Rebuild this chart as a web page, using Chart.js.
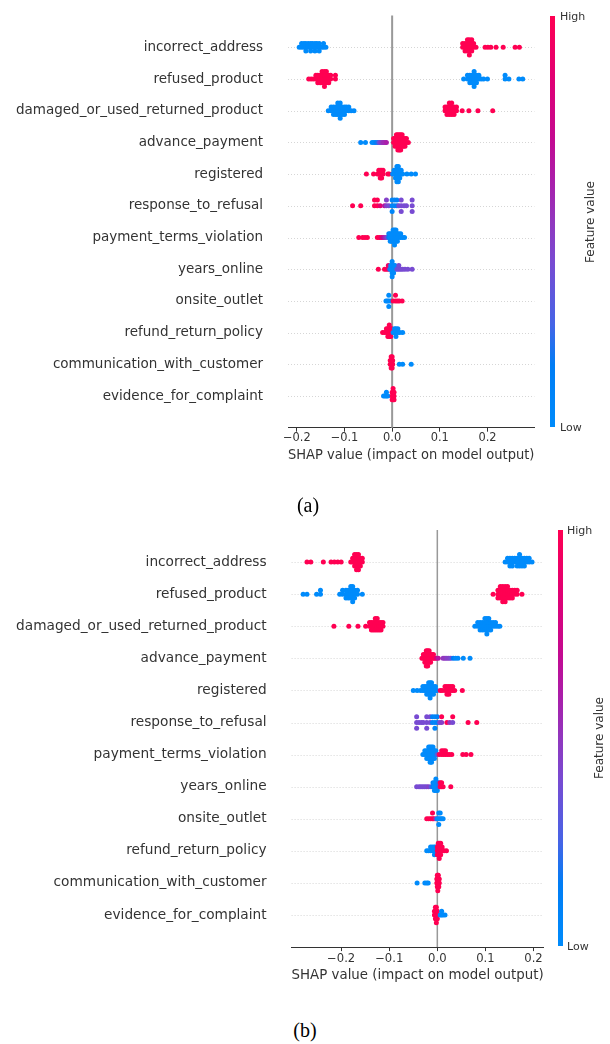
<!DOCTYPE html>
<html>
<head>
<meta charset="utf-8">
<script src="https://cdn.jsdelivr.net/npm/chart.js@4.4.1/dist/chart.umd.min.js"></script>
<style>
  html, body { margin: 0; padding: 0; background: #fff; }
  body { width: 610px; height: 1044px; position: relative; overflow: hidden; font-family: 'DejaVu Sans', sans-serif; }
  canvas { position: absolute; left: 0; }
  .cbar { position: absolute; }
  .cblab { position: absolute; font-size: 11px; color: #333; line-height: 1; transform: translateY(-50%); white-space: nowrap; }
  .fv { position: absolute; font-size: 12px; color: #333; white-space: nowrap; transform: translate(-50%, -50%) rotate(-90deg); }
  .cap { position: absolute; font-family: 'Liberation Serif', 'Times New Roman', serif; font-size: 20px; color: #000; transform: translate(-50%, -50%); white-space: nowrap; }
</style>
</head>
<body>
<canvas id="chartA" width="610" height="470" style="top:0px"></canvas>
<canvas id="chartB" width="610" height="490" style="top:500px"></canvas>

<div class="cbar" id="cbarA" style="left:550px; top:16px; width:5px; height:411px;"></div>
<div class="cblab" style="left:560px; top:16px;">High</div>
<div class="cblab" style="left:560px; top:427px;">Low</div>
<div class="fv" style="left:590px; top:222px;">Feature value</div>

<div class="cbar" id="cbarB" style="left:558px; top:530px; width:5px; height:416px;"></div>
<div class="cblab" style="left:567px; top:530px;">High</div>
<div class="cblab" style="left:567px; top:946px;">Low</div>
<div class="fv" style="left:599px; top:738px;">Feature value</div>

<div class="cap" style="left:308px; top:505px;">(a)</div>
<div class="cap" style="left:305px; top:1030px;">(b)</div>

<script>
// ---------------- DATA ----------------
const features = ['incorrect_address','refused_product','damaged_or_used_returned_product','advance_payment','registered','response_to_refusal','payment_terms_violation','years_online','onsite_outlet','refund_return_policy','communication_with_customer','evidence_for_complaint'];
const xTickValues = [-0.2, -0.1, 0.0, 0.1, 0.2];
const xTickLabels = ['\u22120.2', '\u22120.1', '0.0', '0.1', '0.2'];
const axisTitle = 'SHAP value (impact on model output)';

// each entry: [SHAP value, feature value (0 = low, 1 = high), number of samples]
// ---- panel (a)
const a_incorrect_address = [[-0.195,0,1],[-0.19,0,2],[-0.185,0,2],[-0.181,0,3],[-0.176,0,2],[-0.171,0,3],[-0.167,0,2],[-0.162,0,3],[-0.158,0,2],[-0.153,0,3],[-0.148,0,1],[-0.144,0,2],[-0.139,0,1],[0.148,1,2],[0.153,1,3],[0.158,1,4],[0.162,1,5],[0.167,1,4],[0.171,1,2],[0.176,1,1],[0.195,1,1],[0.201,1,1],[0.207,1,1],[0.218,1,1],[0.233,1,1],[0.258,1,1],[0.267,1,1]];
const a_refused_product = [[-0.175,1,1],[-0.17,1,1],[-0.165,1,1],[-0.16,1,2],[-0.156,1,3],[-0.151,1,3],[-0.147,1,4],[-0.142,1,5],[-0.138,1,4],[-0.133,1,3],[-0.129,1,2],[-0.119,1,2],[0.15,0,1],[0.158,0,2],[0.163,0,3],[0.168,0,3],[0.172,0,5],[0.177,0,3],[0.182,0,2],[0.187,0,1],[0.192,0,1],[0.2,0,1],[0.237,0,2],[0.245,0,1],[0.266,0,1],[0.274,0,1]];
const a_damaged = [[-0.134,0,1],[-0.128,0,2],[-0.123,0,3],[-0.118,0,3],[-0.114,0,4],[-0.109,0,5],[-0.105,0,3],[-0.1,0,3],[-0.096,0,2],[-0.091,0,2],[-0.086,0,1],[-0.08,0,1],[0.111,1,2],[0.115,1,3],[0.12,1,4],[0.125,1,4],[0.13,1,3],[0.135,1,2],[0.147,1,1],[0.161,1,1],[0.18,1,1],[0.211,1,1]];
const a_advance_payment = [[-0.066,0,1],[-0.056,0,1],[-0.042,0,1],[-0.038,0,1],[-0.034,0.1,1],[-0.03,0.2,1],[-0.027,0.35,1],[-0.024,0.45,1],[-0.021,0.5,1],[-0.018,0.55,1],[-0.015,0.55,1],[-0.012,0.6,1],[0.003,1,2],[0.006,1,3],[0.009,1,4],[0.012,1,5],[0.015,1,5],[0.018,1,5],[0.021,1,4],[0.024,1,3],[0.027,1,3],[0.03,1,2],[0.034,1,1]];
const a_registered = [[-0.054,1,1],[-0.039,1,1],[-0.031,1,1],[-0.028,1,2],[-0.025,1,3],[-0.022,1,3],[-0.019,1,2],[-0.009,1,1],[-0.006,1,1],[0.001,0,1],[0.004,0,2],[0.007,0,3],[0.01,0,5],[0.013,0,5],[0.016,0,3],[0.019,0,2],[0.022,0,1],[0.031,0,1],[0.04,0,1],[0.049,0,1]];
const a_response_to_refusal = [[-0.083,1,1],[-0.066,1,1],[-0.037,1,2],[-0.031,1,2],[-0.025,0.85,1],[-0.016,0.65,1],[-0.012,0.45,2],[-0.007,0.4,1],[0,0.05,3],[0.005,0.05,2],[0.01,0.1,2],[0.014,0.4,1],[0.019,0.4,3],[0.025,0.4,1],[0.03,0.4,1],[0.042,0.4,3]];
const a_payment_terms_violation = [[-0.07,1,1],[-0.062,1,1],[-0.057,1,1],[-0.052,1,1],[-0.031,1,1],[-0.027,1,1],[-0.023,0.9,1],[-0.019,0.7,1],[-0.015,0.55,1],[-0.011,0.4,1],[-0.007,0.1,2],[-0.004,0,3],[-0.001,0,3],[0.002,0,4],[0.005,0,5],[0.008,0,4],[0.011,0,3],[0.014,0,2],[0.018,0,2],[0.022,0,1],[0.026,0,1]];
const a_years_online = [[-0.029,1,1],[-0.016,1,1],[-0.012,1,1],[-0.008,0.9,2],[-0.005,0.2,1],[-0.003,0,2],[0,0,5],[0.003,0,3],[0.006,0,2],[0.01,0.35,1],[0.014,0.4,2],[0.018,0.4,1],[0.022,0.4,1],[0.027,0.4,1],[0.033,0.4,1],[0.042,0.4,1]];
const a_onsite_outlet = [[-0.013,0,1],[-0.01,0,1],[-0.007,0,3],[-0.003,0,1],[0.002,1,1],[0.007,1,2],[0.011,1,1],[0.015,1,1],[0.021,1,1]];
const a_refund_return_policy = [[-0.02,1,1],[-0.016,1,1],[-0.012,1,2],[-0.009,1,3],[-0.006,1,4],[-0.003,1,3],[-0.001,1,2],[0.002,0,1],[0.005,0,2],[0.008,0,3],[0.012,0,2],[0.016,0,1],[0.022,0,1]];
const a_communication = [[-0.004,1,2],[-0.002,1,4],[0,1,4],[0.001,1,2],[0.015,0,1],[0.022,0,1],[0.04,0,1]];
const a_evidence = [[-0.018,0,1],[-0.015,0,1],[-0.012,0,2],[-0.009,0,1],[0,1,3],[0.002,1,4],[0.004,1,3]];

// ---- panel (b)
const b_incorrect_address = [[-0.271,1,1],[-0.263,1,1],[-0.237,1,1],[-0.221,1,1],[-0.214,1,1],[-0.207,1,1],[-0.2,1,1],[-0.18,1,1],[-0.176,1,2],[-0.172,1,4],[-0.168,1,5],[-0.164,1,5],[-0.16,1,3],[-0.156,1,2],[0.141,0,1],[0.146,0,2],[0.151,0,3],[0.156,0,3],[0.161,0,2],[0.166,0,3],[0.171,0,4],[0.176,0,3],[0.181,0,3],[0.186,0,2],[0.191,0,2],[0.197,0,1]];
const b_refused_product = [[-0.279,0,1],[-0.271,0,1],[-0.251,0,1],[-0.243,0,2],[-0.203,0,1],[-0.197,0,2],[-0.19,0,3],[-0.185,0,3],[-0.18,0,4],[-0.176,0,5],[-0.172,0,3],[-0.166,0,2],[-0.156,0,1],[0.116,1,1],[0.126,1,3],[0.131,1,4],[0.136,1,5],[0.141,1,5],[0.146,1,4],[0.151,1,3],[0.156,1,3],[0.161,1,2],[0.166,1,2],[0.176,1,1]];
const b_damaged = [[-0.215,1,1],[-0.184,1,1],[-0.165,1,1],[-0.149,1,1],[-0.141,1,2],[-0.137,1,3],[-0.133,1,3],[-0.129,1,4],[-0.125,1,4],[-0.121,1,3],[-0.117,1,3],[-0.113,1,2],[0.078,0,1],[0.084,0,2],[0.089,0,3],[0.094,0,3],[0.099,0,4],[0.103,0,5],[0.107,0,4],[0.111,0,3],[0.116,0,2],[0.121,0,2],[0.126,0,1],[0.13,0,1]];
const b_advance_payment = [[-0.032,1,1],[-0.029,1,2],[-0.026,1,3],[-0.023,1,5],[-0.02,1,5],[-0.017,1,4],[-0.014,1,3],[-0.011,1,2],[-0.008,1,2],[-0.005,1,1],[-0.002,0.85,1],[0.002,0.65,1],[0.012,0.5,1],[0.016,0.5,1],[0.02,0.45,1],[0.024,0.45,1],[0.028,0.4,1],[0.033,0.15,1],[0.038,0,1],[0.043,0,1],[0.054,0,1],[0.068,0,1]];
const b_registered = [[-0.05,0,1],[-0.042,0,1],[-0.035,0,1],[-0.03,0,2],[-0.026,0,2],[-0.022,0,3],[-0.018,0,4],[-0.015,0,5],[-0.012,0,4],[-0.008,0,3],[-0.004,0,2],[-0.001,0,1],[0.006,1,1],[0.01,1,1],[0.016,1,2],[0.02,1,3],[0.024,1,3],[0.028,1,2],[0.032,1,2],[0.036,1,1],[0.052,1,1]];
const b_response_to_refusal = [[-0.043,0.4,3],[-0.038,0.4,1],[-0.033,0.4,1],[-0.029,0.4,1],[-0.022,0.4,3],[-0.015,0.4,2],[-0.01,0.1,2],[-0.005,0.05,3],[0,0.1,2],[0.005,0.4,1],[0.009,0.45,1],[0.009,1,1],[0.02,1,1],[0.026,0.5,1],[0.032,0.4,1],[0.032,1,1],[0.064,1,1],[0.082,1,1]];
const b_payment_terms_violation = [[-0.03,0,1],[-0.026,0,2],[-0.022,0,3],[-0.018,0,4],[-0.015,0,5],[-0.012,0,5],[-0.009,0,4],[-0.006,0,3],[-0.003,0,2],[0,0.3,1],[0.004,1,1],[0.009,1,2],[0.013,1,2],[0.017,1,2],[0.021,1,1],[0.025,1,1],[0.03,1,1],[0.053,1,1],[0.06,1,1],[0.07,1,1]];
const b_years_online = [[-0.043,0.4,1],[-0.038,0.4,1],[-0.034,0.4,1],[-0.03,0.4,1],[-0.026,0.4,1],[-0.022,0.4,1],[-0.018,0.45,1],[-0.013,0.3,1],[-0.009,0.1,2],[-0.006,0,3],[-0.003,0,4],[0,0,3],[0.003,0.2,2],[0.006,1,2],[0.009,1,2],[0.012,1,1],[0.028,1,1]];
const b_onsite_outlet = [[-0.022,1,1],[-0.018,1,1],[-0.014,1,1],[-0.01,1,2],[-0.007,1,1],[-0.003,0.5,1],[0,0,1],[0.003,0,3],[0.006,0,2],[0.009,0,1],[0.012,0,1]];
const b_refund_return_policy = [[-0.022,0,1],[-0.018,0,1],[-0.014,0,2],[-0.01,0,2],[-0.006,0,3],[-0.003,0,2],[0,1,3],[0.002,1,4],[0.004,1,5],[0.007,1,4],[0.01,1,2],[0.014,1,1],[0.019,1,1]];
const b_communication = [[-0.042,0,1],[-0.026,0,1],[-0.022,0,1],[-0.019,0,1],[-0.001,1,2],[0,1,4],[0.001,1,5],[0.002,1,4],[0.003,1,3],[0.004,1,2]];
const b_evidence = [[-0.006,1,2],[-0.004,1,4],[-0.002,1,5],[0,1,3],[0.006,0,1],[0.009,0,2],[0.012,0,1],[0.016,0,1]];

const panelA = [a_incorrect_address,a_refused_product,a_damaged,a_advance_payment,a_registered,a_response_to_refusal,a_payment_terms_violation,a_years_online,a_onsite_outlet,a_refund_return_policy,a_communication,a_evidence];
const panelB = [b_incorrect_address,b_refused_product,b_damaged,b_advance_payment,b_registered,b_response_to_refusal,b_payment_terms_violation,b_years_online,b_onsite_outlet,b_refund_return_policy,b_communication,b_evidence];

// ---------------- COLOR MAP (shap red_blue approximation) ----------------
const cmapStops = [[0,[0,139,251]],[0.15,[0,125,245]],[0.25,[70,100,230]],[0.4,[120,75,210]],[0.5,[145,55,190]],[0.6,[170,30,170]],[0.7,[195,10,145]],[0.85,[225,0,115]],[1,[255,0,82]]];
function fvColor(t) {
  t = Math.max(0, Math.min(1, t));
  for (let i = 1; i < cmapStops.length; i++) {
    const [t1, c1] = cmapStops[i], [t0, c0] = cmapStops[i-1];
    if (t <= t1) {
      const f = (t - t0) / (t1 - t0);
      return 'rgb(' + c0.map((c, k) => Math.round(c + (c1[k] - c) * f)).join(',') + ')';
    }
  }
  return 'rgb(255,0,82)';
}
const grad = 'linear-gradient(to top, ' + cmapStops.map(s => 'rgb(' + s[1].join(',') + ') ' + (s[0]*100) + '%').join(', ') + ')';
document.getElementById('cbarA').style.background = grad;
document.getElementById('cbarB').style.background = grad;

// ---------------- beeswarm layout (as in shap summary_plot) ----------------
function swarm(entries, row) {
  const xs = [], fvs = [];
  entries.forEach(e => { for (let k = 0; k < e[2]; k++) { xs.push(e[0]); fvs.push(e[1]); } });
  const N = xs.length, mn = Math.min(...xs), mx = Math.max(...xs);
  const nbins = 100;
  const quant = xs.map(v => Math.round(nbins * (v - mn) / (mx - mn + 1e-8)));
  const inds = [...Array(N).keys()].sort((a, b) => (quant[a] - quant[b]) || (a - b));
  const ys = new Array(N).fill(0);
  let layer = 0, last = -1;
  for (const i of inds) {
    if (quant[i] !== last) layer = 0;
    ys[i] = Math.ceil(layer / 2) * ((layer % 2) * 2 - 1);
    layer++; last = quant[i];
  }
  const m = Math.max(...ys.map(y => y + 1));
  const rowHeight = 0.4;
  return xs.map((x, i) => ({ x: x, y: row + ys[i] * 0.9 * (rowHeight / m), fv: fvs[i] }));
}

// ---------------- decorations drawn through the scales ----------------
const shapDecor = {
  id: 'shapDecor',
  beforeDatasetsDraw(chart, args, opts) {
    const { ctx, chartArea, scales } = chart;
    const { left, right, top, bottom } = chartArea;
    ctx.save();
    ctx.strokeStyle = '#d6d6d6';
    ctx.lineWidth = 1;
    ctx.setLineDash([1, 2]);
    for (let r = 0; r < features.length; r++) {
      const py = Math.round(scales.y.getPixelForValue(r)) + 0.5;
      ctx.beginPath(); ctx.moveTo(left, py); ctx.lineTo(right, py); ctx.stroke();
    }
    ctx.setLineDash([]);
    ctx.strokeStyle = '#999999';
    ctx.lineWidth = opts.zeroWidth;
    const px = scales.x.getPixelForValue(0);
    ctx.beginPath(); ctx.moveTo(px, top); ctx.lineTo(px, bottom); ctx.stroke();
    ctx.restore();
  }
};

function buildChart(canvasId, panel, g) {
  const nF = features.length;
  const datasets = panel.map((entries, i) => {
    const pts = swarm(entries, nF - 1 - i);
    return {
      label: features[i],
      data: pts.map(p => ({ x: p.x, y: p.y })),
      pointBackgroundColor: pts.map(p => fvColor(p.fv)),
      pointBorderWidth: 0,
      pointRadius: 2.5,
      pointHoverRadius: 2.5,
      showLine: false
    };
  });
  return new Chart(document.getElementById(canvasId), {
    type: 'scatter',
    data: { datasets },
    options: {
      responsive: false,
      animation: false,
      events: [],
      devicePixelRatio: 1,
      layout: { padding: { top: g.top, right: g.right, left: 0, bottom: 0 } },
      plugins: { legend: { display: false }, tooltip: { enabled: false }, shapDecor: { zeroWidth: g.zeroWidth } },
      scales: {
        x: {
          type: 'linear', min: g.xmin, max: g.xmax,
          afterBuildTicks: s => { s.ticks = xTickValues.map(v => ({ value: v })); },
          afterFit: s => { s.height = g.xh; s.paddingLeft = 0; s.paddingRight = 0; },
          ticks: { autoSkip: false, maxRotation: 0, padding: g.tickPad, color: '#333', font: { family: 'DejaVu Sans', size: g.tickFont },
                   callback: (v, i) => xTickLabels[i] },
          grid: { display: true, drawOnChartArea: false, drawTicks: true, tickLength: 4, tickColor: '#333', tickWidth: 1 },
          border: { display: true, color: '#333', width: 1 },
          title: { display: true, text: axisTitle, color: '#333', font: { family: 'DejaVu Sans', size: g.labelFont }, padding: { top: 0, bottom: g.titlePad } }
        },
        y: {
          type: 'linear', min: -1, max: nF,
          afterBuildTicks: s => { s.ticks = features.map((f, i) => ({ value: i })); },
          afterFit: s => { s.width = g.yw; s.paddingTop = 0; s.paddingBottom = 0; },
          ticks: { autoSkip: false, padding: 25, color: '#333', font: { family: 'DejaVu Sans', size: g.labelFont },
                   callback: (v) => features[nF - 1 - v] },
          grid: { display: false, drawTicks: false },
          border: { display: false }
        }
      }
    },
    plugins: [shapDecor]
  });
}

buildChart('chartA', panelA, { top: 15.6, right: 75.6, yw: 288, xh: 42.3, xmin: -0.2185, xmax: 0.2985, zeroWidth: 2, tickPad: 0, titlePad: 6, labelFont: 13.5, tickFont: 11.4 });
buildChart('chartB', panelB, { top: 30, right: 66.4, yw: 291.6, xh: 42.9, xmin: -0.303, xmax: 0.221, zeroWidth: 1.5, tickPad: 1, titlePad: 6.5, labelFont: 13.7, tickFont: 11.6 });
</script>
</body>
</html>
